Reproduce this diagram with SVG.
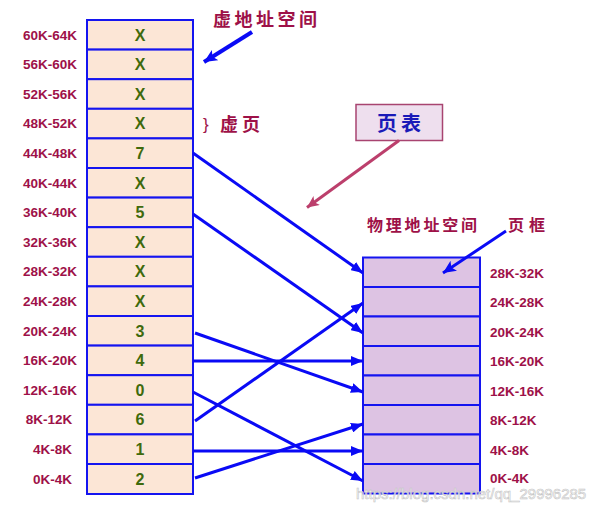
<svg xmlns="http://www.w3.org/2000/svg" width="608" height="509" viewBox="0 0 608 509">
<defs>
<style>
.vcell{fill:#FCE6D6;stroke:#1414F0;stroke-width:2}
.pcell{fill:#DDC3E3;stroke:#1414F0;stroke-width:2}
.lbl{font-family:"Liberation Sans",Arial,sans-serif;font-weight:bold;font-size:13.5px;fill:#9E1148}
.num{font-family:"Liberation Sans",Arial,sans-serif;font-weight:bold;font-size:16px;fill:#3F6A0C;text-anchor:middle}
.cjk{font-family:"Noto Sans CJK SC","Noto Sans",sans-serif;fill:#9E1148}
.conn{stroke:#0A0AF5;stroke-width:3;fill:none;marker-end:url(#ah)}
</style>
<marker id="ah" markerUnits="userSpaceOnUse" markerWidth="12" markerHeight="10" refX="12" refY="5" orient="auto">
<path d="M0,0 L12,5 L0,10 z" fill="#0A0AF5"/>
</marker>
<marker id="ahr" markerUnits="userSpaceOnUse" markerWidth="13" markerHeight="11" refX="12" refY="5.5" orient="auto">
<path d="M0,0 L12,5.5 L0,11 L3,5.5 z" fill="#BC3F6C"/>
</marker>
<marker id="ahb" markerUnits="userSpaceOnUse" markerWidth="14" markerHeight="12" refX="13" refY="6" orient="auto">
<path d="M0,0 L13,6 L0,12 L3,6 z" fill="#0A0AF5"/>
</marker>
</defs>
<rect width="608" height="509" fill="#ffffff"/>

<g id="virtual-space">
<rect class="vcell" x="87" y="20" width="106" height="29.6"/>
<rect class="vcell" x="87" y="49.6" width="106" height="29.6"/>
<rect class="vcell" x="87" y="79.2" width="106" height="29.6"/>
<rect class="vcell" x="87" y="108.8" width="106" height="29.6"/>
<rect class="vcell" x="87" y="138.4" width="106" height="29.6"/>
<rect class="vcell" x="87" y="168" width="106" height="29.6"/>
<rect class="vcell" x="87" y="197.6" width="106" height="29.6"/>
<rect class="vcell" x="87" y="227.2" width="106" height="29.6"/>
<rect class="vcell" x="87" y="256.8" width="106" height="29.6"/>
<rect class="vcell" x="87" y="286.4" width="106" height="29.6"/>
<rect class="vcell" x="87" y="316" width="106" height="29.6"/>
<rect class="vcell" x="87" y="345.6" width="106" height="29.6"/>
<rect class="vcell" x="87" y="375.2" width="106" height="29.6"/>
<rect class="vcell" x="87" y="404.8" width="106" height="29.6"/>
<rect class="vcell" x="87" y="434.4" width="106" height="29.6"/>
<rect class="vcell" x="87" y="464" width="106" height="30"/>
<text class="num" x="140" y="40.6">X</text>
<text class="num" x="140" y="70.2">X</text>
<text class="num" x="140" y="99.8">X</text>
<text class="num" x="140" y="129.4">X</text>
<text class="num" x="140" y="159">7</text>
<text class="num" x="140" y="188.6">X</text>
<text class="num" x="140" y="218.2">5</text>
<text class="num" x="140" y="247.8">X</text>
<text class="num" x="140" y="277.4">X</text>
<text class="num" x="140" y="307">X</text>
<text class="num" x="140" y="336.6">3</text>
<text class="num" x="140" y="366.2">4</text>
<text class="num" x="140" y="395.8">0</text>
<text class="num" x="140" y="425.4">6</text>
<text class="num" x="140" y="455">1</text>
<text class="num" x="140" y="484.6">2</text>
<g text-anchor="middle">
<text class="lbl" x="50" y="39.6">60K-64K</text>
<text class="lbl" x="50" y="69.2">56K-60K</text>
<text class="lbl" x="50" y="98.8">52K-56K</text>
<text class="lbl" x="50" y="128.4">48K-52K</text>
<text class="lbl" x="50" y="158">44K-48K</text>
<text class="lbl" x="50" y="187.6">40K-44K</text>
<text class="lbl" x="50" y="217.2">36K-40K</text>
<text class="lbl" x="50" y="246.8">32K-36K</text>
<text class="lbl" x="50" y="276.4">28K-32K</text>
<text class="lbl" x="50" y="306">24K-28K</text>
<text class="lbl" x="50" y="335.6">20K-24K</text>
<text class="lbl" x="50" y="365.2">16K-20K</text>
<text class="lbl" x="50" y="394.8">12K-16K</text>
<text class="lbl" x="49" y="424.4">8K-12K</text>
<text class="lbl" x="52.5" y="454">4K-8K</text>
<text class="lbl" x="52.5" y="483.6">0K-4K</text>
</g>
</g>

<g id="physical-space">
<rect class="pcell" x="363" y="257.5" width="117" height="29.5"/>
<rect class="pcell" x="363" y="287" width="117" height="29.5"/>
<rect class="pcell" x="363" y="316.5" width="117" height="29.5"/>
<rect class="pcell" x="363" y="346" width="117" height="29.5"/>
<rect class="pcell" x="363" y="375.5" width="117" height="29.5"/>
<rect class="pcell" x="363" y="405" width="117" height="29.5"/>
<rect class="pcell" x="363" y="434.5" width="117" height="29.5"/>
<rect class="pcell" x="363" y="464" width="117" height="29.5"/>
<text class="lbl" x="490" y="277.5">28K-32K</text>
<text class="lbl" x="490" y="307">24K-28K</text>
<text class="lbl" x="490" y="336.5">20K-24K</text>
<text class="lbl" x="490" y="366">16K-20K</text>
<text class="lbl" x="490" y="395.5">12K-16K</text>
<text class="lbl" x="490" y="425">8K-12K</text>
<text class="lbl" x="490" y="454.5">4K-8K</text>
<text class="lbl" x="490" y="483">0K-4K</text>
</g>

<g id="page-table">
<rect x="356" y="104.5" width="86.5" height="36" fill="#EEDFEE" stroke="#A84470" stroke-width="1.5"/>
<text x="401" y="130.5" text-anchor="middle" font-family="'Noto Sans CJK SC','Noto Sans',sans-serif" font-weight="bold" font-size="20" letter-spacing="4" fill="#1A1AB8">页表</text>
</g>

<g id="annotations">
<text class="cjk" x="213" y="25.5" font-size="18" font-weight="bold" letter-spacing="3.5">虚地址空间</text>
<text x="203" y="130" font-family="'Liberation Sans',Arial,sans-serif" font-size="17" fill="#9E1148">}</text>
<text class="cjk" x="220" y="131" font-size="18" font-weight="bold" letter-spacing="4">虚页</text>
<text class="cjk" x="367" y="231" font-size="16" font-weight="bold" letter-spacing="2.8">物理地址空间</text>
<text class="cjk" x="508" y="231" font-size="16" font-weight="bold" letter-spacing="5">页框</text>
</g>

<g id="connectors">
<line x1="252" y1="32" x2="204" y2="62" stroke="#0A0AF5" stroke-width="4" marker-end="url(#ahb)"/>
<line x1="399" y1="140.5" x2="307" y2="207.5" stroke="#BC3F6C" stroke-width="3" marker-end="url(#ahr)"/>
<line x1="506" y1="231" x2="443" y2="273" stroke="#0A0AF5" stroke-width="3" marker-end="url(#ahb)"/>
<line class="conn" x1="193" y1="153" x2="363" y2="273"/>
<line class="conn" x1="193" y1="214" x2="363" y2="333"/>
<line class="conn" x1="195" y1="333" x2="363" y2="392"/>
<line class="conn" x1="193" y1="361" x2="363" y2="361"/>
<line class="conn" x1="193" y1="392" x2="363" y2="481"/>
<line class="conn" x1="195" y1="421" x2="363" y2="303"/>
<line class="conn" x1="193" y1="451" x2="363" y2="451"/>
<line class="conn" x1="195" y1="478" x2="363" y2="424"/>
</g>

<text x="356" y="499" font-family="'Liberation Sans',Arial,sans-serif" font-size="15" fill="#ffffff" fill-opacity="0.75" stroke="#c4c4c4" stroke-width="0.6">https://blog.csdn.net/qq_29996285</text>
</svg>
